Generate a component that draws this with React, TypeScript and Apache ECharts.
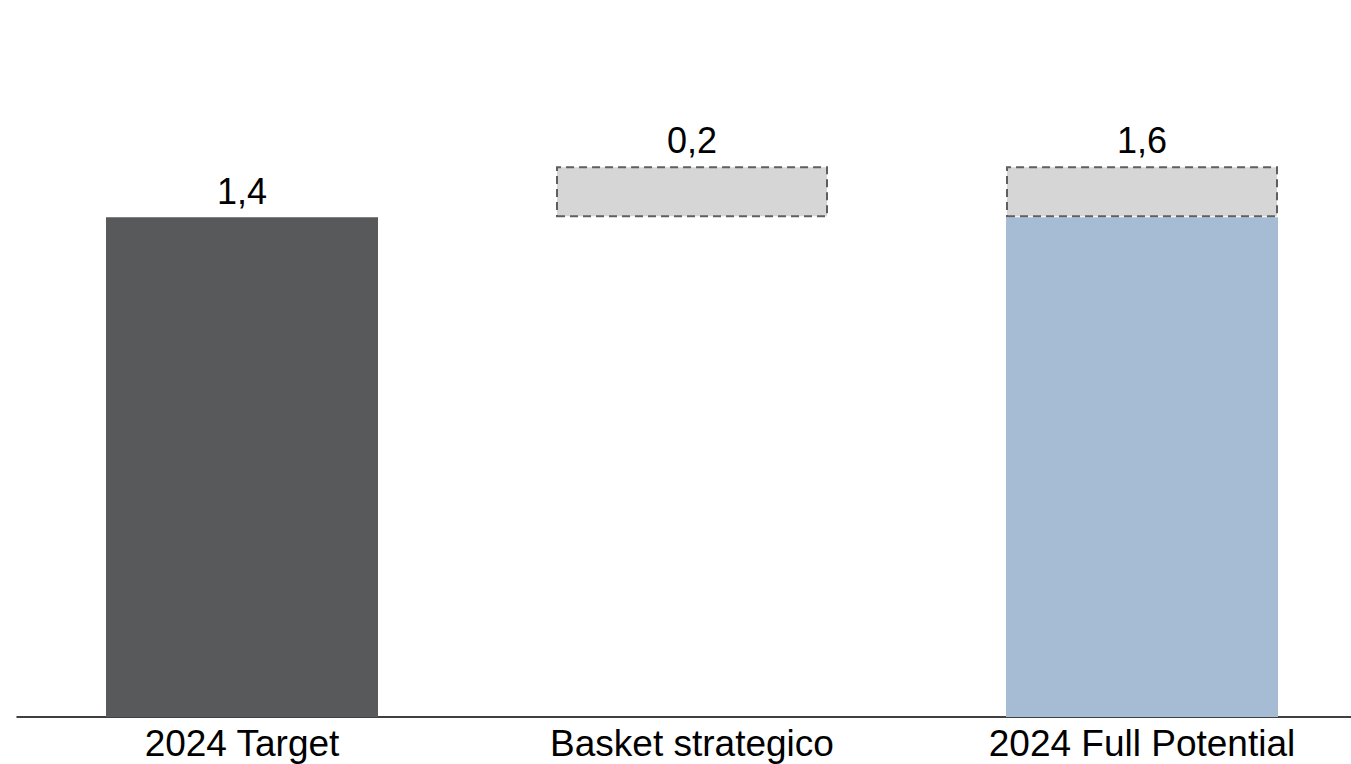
import React, { useEffect, useRef } from "react";
import * as echarts from "echarts";

const categories = ["2024 Target", "Basket strategico", "2024 Full Potential"];
const targetValues = [1.4, null, null];
const baseValues = [null, 1.4, null];
const potentialBase = [null, null, 1.4];
const upliftValues = [null, 0.143, 0.143];
const valueLabels = ["1,4", "0,2", "1,6"];

const FONT = "Arial, 'Liberation Sans', sans-serif";

export default function App() {
  const ref = useRef<HTMLDivElement>(null);
  useEffect(() => {
    if (!ref.current) return;
    const chart = echarts.init(ref.current, null, { renderer: "svg" });
    chart.setOption({
      animation: false,
      grid: { left: 17, top: 3, width: 1350, height: 714, containLabel: false },
      xAxis: {
        type: "category",
        data: categories,
        axisLine: { show: true, lineStyle: { color: "#000", width: 1.5 } },
        axisTick: { show: false },
        axisLabel: { fontSize: 37, color: "#000", fontFamily: FONT, margin: 8 },
      },
      yAxis: { type: "value", min: 0, max: 2.0, show: false, splitLine: { show: false } },
      series: [
        {
          type: "bar",
          stack: "s",
          data: targetValues,
          barWidth: 272,
          itemStyle: { color: "#58595b" },
          label: {
            show: true,
            position: "top",
            distance: 8,
            fontSize: 36,
            color: "#000",
            fontFamily: FONT,
            formatter: (p: any) => valueLabels[p.dataIndex],
          },
        },
        {
          type: "bar",
          stack: "s",
          data: baseValues,
          barWidth: 272,
          itemStyle: { color: "transparent" },
        },
        {
          type: "bar",
          stack: "s",
          data: potentialBase,
          barWidth: 272,
          itemStyle: { color: "#a6bcd4" },
        },
        {
          type: "bar",
          stack: "s",
          data: upliftValues,
          barWidth: 272,
          itemStyle: {
            color: "#d6d6d6",
            borderColor: "#5f5f5f",
            borderWidth: 2,
            borderType: [8, 5],
          },
          label: {
            show: true,
            position: "top",
            distance: 8,
            fontSize: 36,
            color: "#000",
            fontFamily: FONT,
            formatter: (p: any) => valueLabels[p.dataIndex],
          },
        },
      ],
    });
    return () => chart.dispose();
  }, []);
  return (
    <div style={{ position: "absolute", left: 0, top: 0, width: 1351, height: 764, overflow: "hidden", background: "#fff" }}>
      <div ref={ref} style={{ width: 1367, height: 764 }} />
    </div>
  );
}
